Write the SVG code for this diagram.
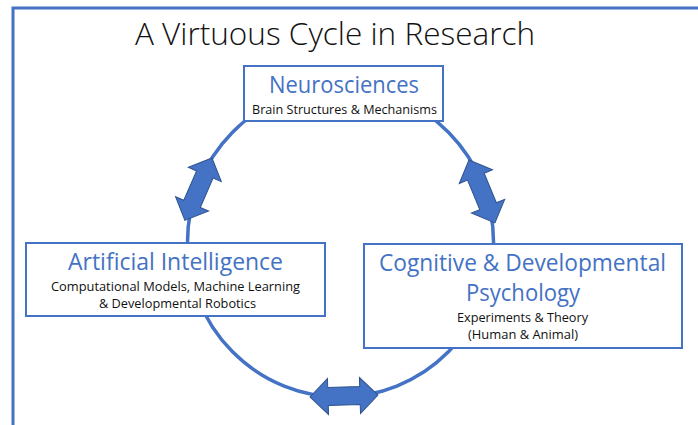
<svg xmlns="http://www.w3.org/2000/svg" width="698" height="425" viewBox="0 0 698 425">
  <style>
    .frame { fill: none; stroke: #4472C4; stroke-width: 3; }
    .box { fill: #ffffff; stroke: #4472C4; stroke-width: 2; }
    .cycle { fill: none; stroke: #4472C4; stroke-width: 3.5; }
    .dbl { fill: #4472C4; stroke: #2F528F; stroke-width: 1; stroke-linejoin: miter; }
    .head { font-family: "Open Sans", "Noto Sans", "Liberation Sans", sans-serif; fill: #4472C4; font-size: 24px; text-anchor: middle; }
    .sub { font-family: "Open Sans", "Noto Sans", "Liberation Sans", sans-serif; fill: #111111; font-size: 12.5px; text-anchor: middle; }
    .title { font-family: "Open Sans", "Noto Sans", "Liberation Sans", sans-serif; fill: #111111; font-size: 31px; font-weight: 300; }
  </style>
  <defs>
    <path id="dblArrow" d="M0,0 L18,-18 L18,-9 L50,-9 L50,-18 L68,0 L50,18 L50,9 L18,9 L18,18 Z"/>
  </defs>
  <rect width="698" height="425" fill="#ffffff"/>
  <rect class="frame" x="13" y="8" width="720" height="440"/>
  <text class="title" x="135" y="45" textLength="400" lengthAdjust="spacingAndGlyphs">A Virtuous Cycle in Research</text>

  <g id="connectors">
    <ellipse class="cycle" cx="340.5" cy="242" rx="153" ry="155"/>
    <use href="#dblArrow" class="dbl" transform="translate(212,158) rotate(113.5)"/>
    <use href="#dblArrow" class="dbl" transform="translate(469,160) rotate(67.6)"/>
    <use href="#dblArrow" class="dbl" transform="translate(310,397) rotate(-1.7)"/>
  </g>

  <g id="neurosciences">
    <rect class="box" x="244" y="66" width="199" height="55"/>
    <text class="head" x="344" y="93" textLength="150" lengthAdjust="spacingAndGlyphs">Neurosciences</text>
    <text class="sub" x="344.5" y="114" textLength="185" lengthAdjust="spacingAndGlyphs">Brain Structures &amp; Mechanisms</text>
  </g>

  <g id="artificial-intelligence">
    <rect class="box" x="26" y="243" width="299" height="73"/>
    <text class="head" x="175.5" y="270" textLength="215" lengthAdjust="spacingAndGlyphs">Artificial Intelligence</text>
    <text class="sub" x="175.5" y="291" textLength="249" lengthAdjust="spacingAndGlyphs">Computational Models, Machine Learning</text>
    <text class="sub" x="177.5" y="308" textLength="157" lengthAdjust="spacingAndGlyphs">&amp; Developmental Robotics</text>
  </g>

  <g id="cognitive-psychology">
    <rect class="box" x="364" y="244" width="318" height="104"/>
    <text class="head" x="522.5" y="271" textLength="287" lengthAdjust="spacingAndGlyphs">Cognitive &amp; Developmental</text>
    <text class="head" x="523" y="301" textLength="114" lengthAdjust="spacingAndGlyphs">Psychology</text>
    <text class="sub" x="522.5" y="322" textLength="131" lengthAdjust="spacingAndGlyphs">Experiments &amp; Theory</text>
    <text class="sub" x="523" y="339" textLength="110" lengthAdjust="spacingAndGlyphs">(Human &amp; Animal)</text>
  </g>
</svg>
